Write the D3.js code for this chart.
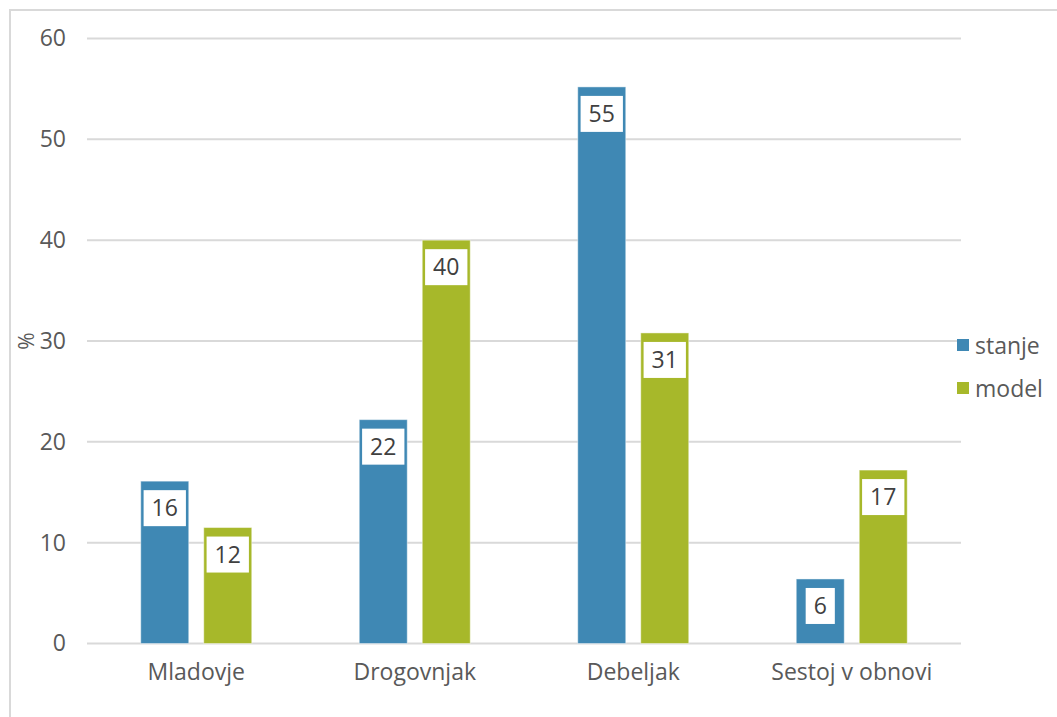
<!DOCTYPE html>
<html>
<head>
<meta charset="utf-8">
<script src="https://cdn.jsdelivr.net/npm/d3@7/dist/d3.min.js"></script>
<style>
  html, body { margin: 0; padding: 0; background: #fff; }
  svg { display: block; font-family: "Open Sans", sans-serif; }
</style>
</head>
<body>
<svg id="chart" width="1057" height="717"></svg>
<script>
const categories = ["Mladovje", "Drogovnjak", "Debeljak", "Sestoj v obnovi"];
const seriesNames = ["stanje", "model"];
const stanje = [16.1, 22.2, 55.2, 6.4];
const model = [11.5, 40.0, 30.8, 17.2];
const yTicks = [0, 10, 20, 30, 40, 50, 60];
const colors = ["#3F88B4", "#A7B82A"];

const svg = d3.select("#chart");
const W = 1057, H = 717;

// outer chart border (left & top visible)
svg.append("path")
  .attr("d", `M10,${H} L10,10 L${W},10`)
  .attr("fill", "none").attr("stroke", "#d9d9d9").attr("stroke-width", 2);

const plot = { left: 87, right: 961, top: 38.5, bottom: 643.5 };

const y = d3.scaleLinear().domain([0, 60]).range([plot.bottom, plot.top]);
const x0 = d3.scaleBand().domain(categories).range([plot.left, plot.right])
  .paddingInner(0.492).paddingOuter(0.246);
const x1 = d3.scaleBand().domain(seriesNames).range([0, x0.bandwidth()])
  .paddingInner(0.238).paddingOuter(0);

// gridlines
svg.append("g").selectAll("line").data(yTicks).join("line")
  .attr("x1", plot.left).attr("x2", plot.right)
  .attr("y1", d => y(d)).attr("y2", d => y(d))
  .attr("stroke", "#d9d9d9").attr("stroke-width", 2);

// y axis labels
const yAxis = d3.axisLeft(y).tickValues(yTicks).tickSize(0).tickPadding(0);
const ya = svg.append("g").attr("transform", `translate(66,0)`).call(yAxis);
ya.select(".domain").remove();
ya.selectAll("text").attr("font-size", 23).attr("fill", "#595959")
  .attr("font-family", "Open Sans, sans-serif");

// x axis labels
const xAxis = d3.axisBottom(x0).tickSize(0).tickPadding(0);
const xa = svg.append("g").attr("transform", `translate(0,${plot.bottom + 20})`).call(xAxis);
xa.select(".domain").remove();
xa.selectAll("text").attr("font-size", 23).attr("fill", "#595959")
  .attr("font-family", "Open Sans, sans-serif");

// y title
svg.append("text")
  .attr("transform", "translate(34,341) rotate(-90)")
  .attr("text-anchor", "middle")
  .attr("font-size", 21).attr("fill", "#595959")
  .text("%");

const data = categories.map((c, i) => ({
  cat: c,
  vals: [{ s: "stanje", v: stanje[i] }, { s: "model", v: model[i] }]
}));

const groups = svg.append("g").selectAll("g").data(data).join("g")
  .attr("transform", d => `translate(${x0(d.cat)},0)`);

groups.selectAll("rect.bar").data(d => d.vals).join("rect")
  .attr("class", "bar")
  .attr("x", d => x1(d.s))
  .attr("width", x1.bandwidth())
  .attr("y", d => y(d.v))
  .attr("height", d => y(0) - y(d.v))
  .attr("fill", (d, i) => colors[i])
  .attr("stroke", "rgba(255,255,255,0.45)").attr("stroke-width", 1);

// data labels
groups.each(function (d) {
  const g = d3.select(this);
  d.vals.forEach((v, i) => {
    const cx = x1(v.s) + x1.bandwidth() / 2;
    const txt = String(Math.round(v.v));
    const t = g.append("text")
      .attr("x", cx).attr("y", y(v.v) + 9 + 18 + 8)
      .attr("text-anchor", "middle")
      .attr("font-size", 23).attr("fill", "#404040")
      .text(txt);
    const tw = t.node().getComputedTextLength();
    const bw = tw + 16;
    g.insert("rect", function () { return t.node(); })
      .attr("x", cx - bw / 2).attr("y", y(v.v) + 9)
      .attr("width", bw).attr("height", 36)
      .attr("fill", "#fff");
  });
});

// legend
const legend = svg.append("g");
seriesNames.forEach((s, i) => {
  const ly = 339 + i * 43;
  legend.append("rect").attr("x", 957).attr("y", ly).attr("width", 12).attr("height", 12)
    .attr("fill", colors[i]);
  legend.append("text").attr("x", 975).attr("y", ly + 15)
    .attr("font-size", 23).attr("fill", "#595959").text(s);
});
</script>
</body>
</html>
